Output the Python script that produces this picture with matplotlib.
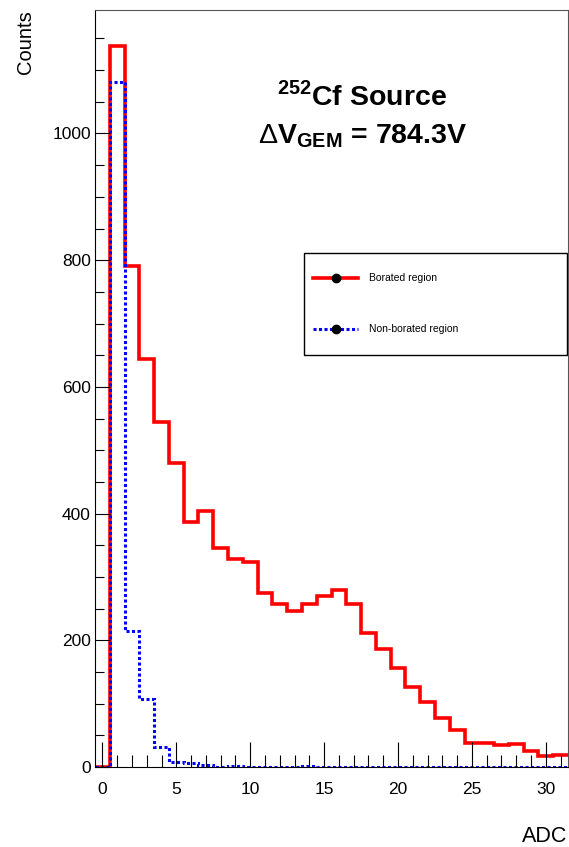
import numpy as np
import matplotlib
matplotlib.use('Agg')
from matplotlib import pyplot as plt
from matplotlib.patches import Rectangle
from matplotlib.ticker import MultipleLocator

plt.rcParams['font.family'] = ['Liberation Sans', 'DejaVu Sans']
plt.rcParams['mathtext.fontset'] = 'custom'
plt.rcParams['mathtext.rm'] = 'Liberation Sans'
plt.rcParams['mathtext.bf'] = 'Liberation Sans:bold'

# histogram data, 32 bins of width 1 centred on 0..31
edges = np.arange(-0.5, 32.0, 1.0)
borated = [0, 1138, 791, 644, 545, 480, 387, 404, 346, 328, 324, 275, 258, 247, 257, 270,
           280, 258, 211, 186, 156, 126, 102, 78, 58, 38, 38, 35, 36, 25, 17, 19]
nonborated = [0, 1082, 214, 107, 32, 8, 6, 3, 0, 2, 0, 0, 0, 0, 1, 0,
              0, 0, 0, 0, 0, 0, 0, 0, 0, 0, 0, 0, 0, 0, 0, 0]
labels = ['Borated region', 'Non-borated region']

fig = plt.figure(figsize=(5.69, 8.47), dpi=100)
ax = fig.add_axes([95/569, 80/847, 473/569, 757/847])

styles = [dict(color='red', lw=2.6, linestyle='-'),
          dict(color='blue', lw=2.2, linestyle=(0, (1.0, 0.8)))]

ax.stairs(borated, edges, baseline=None, **styles[0])
ax.stairs(nonborated, edges, baseline=None, **styles[1])

ax.set_xlim(-0.5, 31.5)
ax.set_ylim(0, max(borated)*1.05)

ax.xaxis.set_major_locator(MultipleLocator(5))
ax.xaxis.set_minor_locator(MultipleLocator(1))
ax.yaxis.set_major_locator(MultipleLocator(200))
ax.yaxis.set_minor_locator(MultipleLocator(50))
ax.tick_params(axis='x', which='major', direction='in', length=18, width=0.8, pad=11, labelsize=12.5)
ax.tick_params(axis='x', which='minor', direction='in', length=9, width=0.8)
ax.tick_params(axis='y', which='major', direction='in', length=11, width=0.8, pad=3, labelsize=12.5)
ax.tick_params(axis='y', which='minor', direction='in', length=6.5, width=0.8)
for s in ['top', 'right']:
    ax.spines[s].set_color('#555555')
    ax.spines[s].set_linewidth(0.8)
for s in ['left', 'bottom']:
    ax.spines[s].set_linewidth(0.8)

fig.text(25/569, 1-10/847, 'Counts', rotation=90, ha='center', va='top', fontsize=14.5)
fig.text(567/569, 1-836/847, 'ADC', ha='right', va='center', fontsize=15.5)

ax.text(0.565, 0.886, r'$^{\mathbf{252}}$Cf Source', transform=ax.transAxes,
        ha='center', va='center', fontsize=20.5, fontweight='bold')
ax.text(0.565, 0.824, r'$\Delta$V$_{\mathbf{GEM}}$ = 784.3V', transform=ax.transAxes,
        ha='center', va='baseline', fontsize=20.5, fontweight='bold')

# legend box, drawn by hand (ROOT TLegend look)
ax.add_patch(Rectangle((0.442, 0.544), 0.556, 0.135, transform=ax.transAxes,
                       facecolor='white', edgecolor='black', lw=1.0, zorder=5))
for i, (lab, st) in enumerate(zip(labels, styles)):
    yy = 0.646 - i*0.0675
    ax.plot([0.461, 0.556], [yy, yy], transform=ax.transAxes, zorder=6, **st)
    ax.plot([0.5085], [yy], 'o', color='black', ms=6, transform=ax.transAxes, zorder=7)
    ax.text(0.579, yy, lab, transform=ax.transAxes, va='center', fontsize=7.5, zorder=7)

fig.savefig('out.png', dpi=100)
